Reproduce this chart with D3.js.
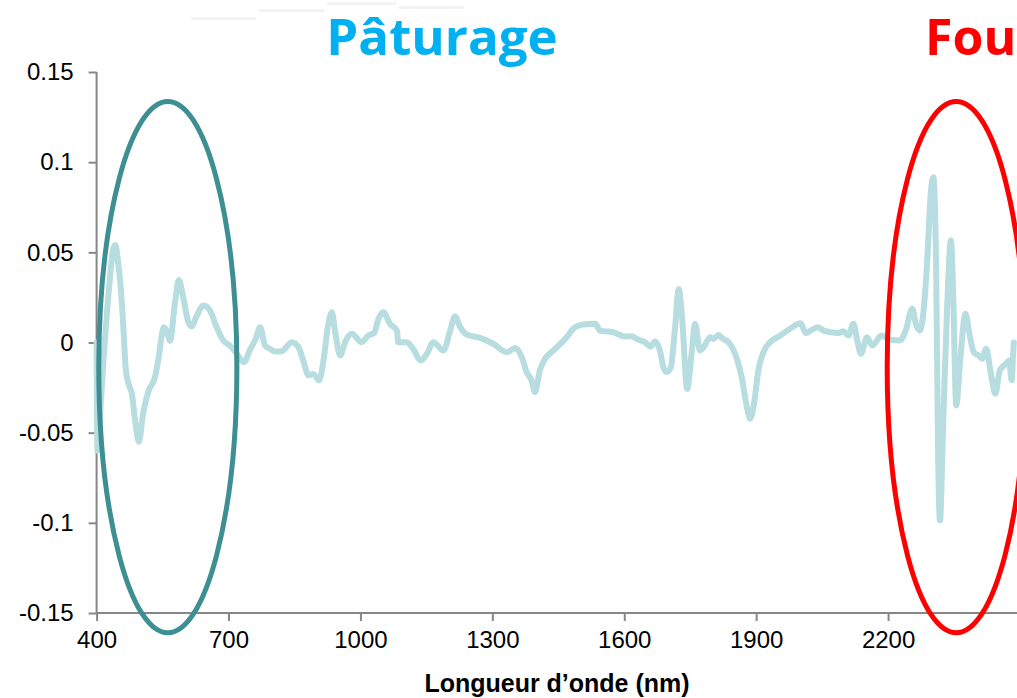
<!DOCTYPE html>
<html>
<head>
<meta charset="utf-8">
<script src="https://cdn.jsdelivr.net/npm/d3@7"></script>
<style>
  html, body { margin: 0; padding: 0; background: #fff; }
  svg { display: block; }
</style>
</head>
<body>
<svg id="chart" width="1017" height="698"></svg>
<script>
// Second-derivative reflectance spectrum (nm vs value)
const wavelengths = [400, 402, 408, 416, 424, 432, 438, 443, 449, 455, 461, 466, 474, 480, 487, 496, 506, 518, 533, 540, 553, 560, 567, 578, 587, 597, 609, 616, 628, 643, 658, 673, 688, 703, 719, 735, 749, 762, 772, 783, 794, 806, 821, 844, 859, 870, 882, 893, 906, 916, 927, 935, 942, 954, 965, 980, 1003, 1018, 1031, 1041, 1052, 1067, 1083, 1086, 1105, 1120, 1137, 1151, 1166, 1189, 1204, 1215, 1227, 1242, 1272, 1302, 1333, 1352, 1367, 1378, 1389, 1397, 1408, 1420, 1439, 1469, 1484, 1503, 1534, 1545, 1575, 1602, 1617, 1628, 1647, 1660, 1670, 1681, 1689, 1697, 1706, 1715, 1724, 1732, 1743, 1753, 1761, 1772, 1783, 1795, 1803, 1814, 1825, 1837, 1856, 1867, 1879, 1886, 1895, 1905, 1920, 1932, 1955, 1977, 2001, 2013, 2026, 2041, 2053, 2072, 2087, 2098, 2110, 2121, 2130, 2138, 2152, 2164, 2185, 2205, 2227, 2240, 2255, 2263, 2272, 2280, 2289, 2297, 2303, 2309, 2314, 2318, 2325, 2334, 2343, 2348, 2355, 2364, 2376, 2385, 2395, 2406, 2414, 2423, 2434, 2444, 2454, 2468, 2475, 2481, 2484, 2486];
const values = [0.0, -0.06, -0.04, -0.008, 0.018, 0.040, 0.052, 0.054, 0.044, 0.030, 0.008, -0.014, -0.024, -0.028, -0.042, -0.055, -0.039, -0.027, -0.019, -0.010, 0.0085, 0.006, 0.001, 0.0216, 0.0347, 0.025, 0.011, 0.0089, 0.015, 0.0205, 0.0177, 0.0085, 0.0011, -0.0017, -0.0063, -0.0109, -0.004, 0.002, 0.0085, -0.0017, -0.0035, -0.005, -0.0048, 0.0002, -0.0026, -0.010, -0.0183, -0.0174, -0.021, -0.010, 0.0104, 0.0168, 0.0066, -0.0072, 0.0002, 0.0048, 0.0002, 0.0039, 0.0052, 0.0131, 0.0168, 0.0104, 0.0066, 0.0002, 0.0002, -0.0035, -0.010, -0.0063, 0.0002, -0.0044, 0.0066, 0.0144, 0.0085, 0.0044, 0.0026, -0.0007, -0.0054, -0.003, -0.0081, -0.0164, -0.021, -0.0275, -0.0155, -0.009, -0.0044, 0.0029, 0.0076, 0.0098, 0.0104, 0.0066, 0.0057, 0.0033, 0.0035, 0.0020, 0.0002, -0.0022, 0.0006, -0.0044, -0.0137, -0.0164, -0.0137, 0.0066, 0.0297, 0.0122, -0.0257, -0.0063, 0.0104, -0.0044, -0.0017, 0.0029, 0.002, 0.0042, 0.002, 0.0002, -0.009, -0.0192, -0.0358, -0.0423, -0.034, -0.0155, -0.0035, 0.0002, 0.0039, 0.0076, 0.0107, 0.0052, 0.007, 0.0085, 0.0066, 0.0057, 0.0052, 0.0063, 0.0039, 0.0104, 0.0011, -0.0063, 0.0029, -0.0017, 0.0039, 0.0015, 0.0011, 0.0066, 0.0187, 0.0104, 0.0066, 0.0159, 0.0454, 0.0824, 0.0916, 0.0454, -0.0654, -0.0986, -0.047, 0.0177, 0.0565, 0.027, -0.0349, -0.010, 0.0159, 0.0048, -0.0054, -0.0072, -0.009, -0.0035, -0.0174, -0.0284, -0.0155, -0.0118, -0.010, -0.021, -0.008, 0.0];

const xTicks = [400, 700, 1000, 1300, 1600, 1900, 2200];
const yTicks = [0.15, 0.1, 0.05, 0, -0.05, -0.1, -0.15];
const xTitle = "Longueur d\u2019onde (nm)";

// Highlighted spectral zones: label, colour, centre (nm), half-width (nm), value range
const zoneNames = ["P\u00e2turage", "Fou"];
const zoneColors = ["#3E8F93", "#FF0000"];
const zoneLabelColors = ["#00B0F0", "#FF0000"];
const zoneCenters = [562, 2355];
const zoneHalfWidths = [157, 157];
const zoneTop = [0.1336, 0.1336];
const zoneBottom = [-0.161, -0.161];

const svg = d3.select("#chart");

const x = d3.scaleLinear().domain([400, 2500]).range([96.6, 1020]);
const y = d3.scaleLinear().domain([-0.15, 0.15]).range([613, 72]);

// faint strokes along the top edge
const topStrokes = [[191, 256, 17], [259, 324, 9], [327, 396, 2], [399, 464, 6]];
svg.append("g").selectAll("rect").data(topStrokes).join("rect")
  .attr("x", d => d[0]).attr("width", d => d[1] - d[0])
  .attr("y", d => d[2]).attr("height", 3)
  .attr("fill", "#f3f3f3");

// Axes
const axisColor = "#878787";
const yAxis = svg.append("g")
  .attr("transform", `translate(${x(400)},0)`)
  .call(d3.axisLeft(y).tickValues(yTicks).tickSize(8).tickPadding(15)
    .tickFormat(d => d === 0 ? "0" : String(d)));
yAxis.select(".domain").attr("stroke", axisColor).attr("stroke-width", 2).attr("d", `M0,${y(0.15)}V${y(-0.15)}`);
yAxis.selectAll(".tick line").attr("stroke", axisColor).attr("stroke-width", 2);
yAxis.selectAll(".tick text")
  .attr("font-family", "Liberation Sans, Arial, sans-serif")
  .attr("font-size", 24).attr("fill", "#000");

const xAxis = svg.append("g")
  .attr("transform", `translate(0,${y(-0.15)})`)
  .call(d3.axisBottom(x).tickValues(xTicks).tickSize(8).tickPadding(10).tickFormat(d3.format("d")));
xAxis.select(".domain").attr("stroke", axisColor).attr("stroke-width", 2).attr("d", `M${x(400)},0H1017`);
xAxis.selectAll(".tick line").attr("stroke", axisColor).attr("stroke-width", 2);
xAxis.selectAll(".tick text")
  .attr("font-family", "Liberation Sans, Arial, sans-serif")
  .attr("font-size", 24).attr("fill", "#000");

svg.append("text")
  .attr("x", 557).attr("y", 692)
  .attr("text-anchor", "middle")
  .attr("font-family", "Liberation Sans, Arial, sans-serif")
  .attr("font-weight", "bold").attr("font-size", 25)
  .text(xTitle);

// Spectrum line
const pts = wavelengths.map((w, i) => [w, values[i]]);
svg.append("path")
  .datum(pts)
  .attr("fill", "none")
  .attr("stroke", "#B7DDE0")
  .attr("stroke-width", 6)
  .attr("stroke-linejoin", "round")
  .attr("stroke-linecap", "round")
  .attr("d", d3.line().x(d => x(d[0])).y(d => y(d[1])).curve(d3.curveMonotoneX));

// Zone ellipses
zoneNames.forEach((name, i) => {
  const cx = x(zoneCenters[i]);
  const rx = x(zoneCenters[i] + zoneHalfWidths[i]) - cx;
  const yt = y(zoneTop[i]), yb = y(zoneBottom[i]);
  svg.append("ellipse")
    .attr("cx", cx).attr("cy", (yt + yb) / 2)
    .attr("rx", rx).attr("ry", (yb - yt) / 2)
    .attr("fill", "none")
    .attr("stroke", zoneColors[i])
    .attr("stroke-width", 5);
});

// Zone titles
svg.append("text")
  .attr("x", 442).attr("y", 55)
  .attr("text-anchor", "middle")
  .attr("font-family", "Open Sans, sans-serif")
  .attr("font-weight", "bold").attr("font-size", 51)
  .attr("fill", zoneLabelColors[0])
  .text(zoneNames[0]);
svg.append("text")
  .attr("x", 925).attr("y", 55)
  .attr("font-family", "Open Sans, sans-serif")
  .attr("font-weight", "bold").attr("font-size", 50)
  .attr("fill", zoneLabelColors[1])
  .text(zoneNames[1]);
</script>
</body>
</html>
